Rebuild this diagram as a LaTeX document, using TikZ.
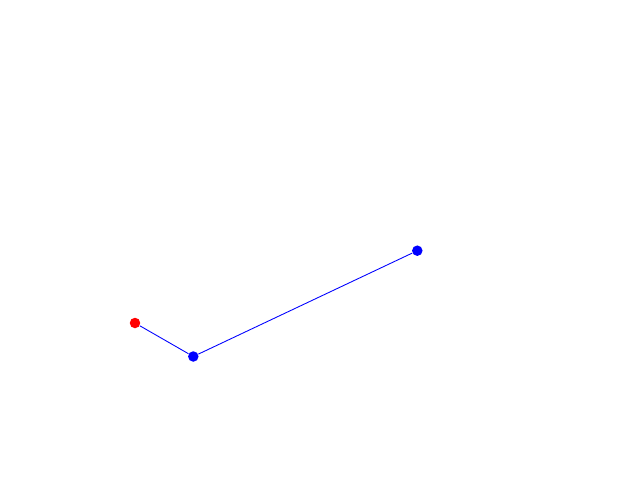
\documentclass[tikz,border=0pt]{standalone}
\usepackage{xcolor}
\usepackage{tikz}
\usetikzlibrary{positioning,calc}

\begin{document}
\begin{tikzpicture}[x=0.02cm, y=-0.02cm,
    dot/.style={circle, fill, inner sep=0pt, minimum size=0.21cm},
    link/.style={blue, line width=0.5pt}]
    % Frame
    \useasboundingbox (0,0) rectangle (640,480);
    
    % Points
    \node [dot, red] (start) at (135,323) {};
    \node [dot, blue] (mid) at (193.3,356.5) {};
    \node [dot, blue] (tip) at (417.3,250.7) {};
    
    % Segments
    \draw [link] (start) -- (mid);
    \draw [link] (mid) -- (tip);
    
\end{tikzpicture}
\end{document}
